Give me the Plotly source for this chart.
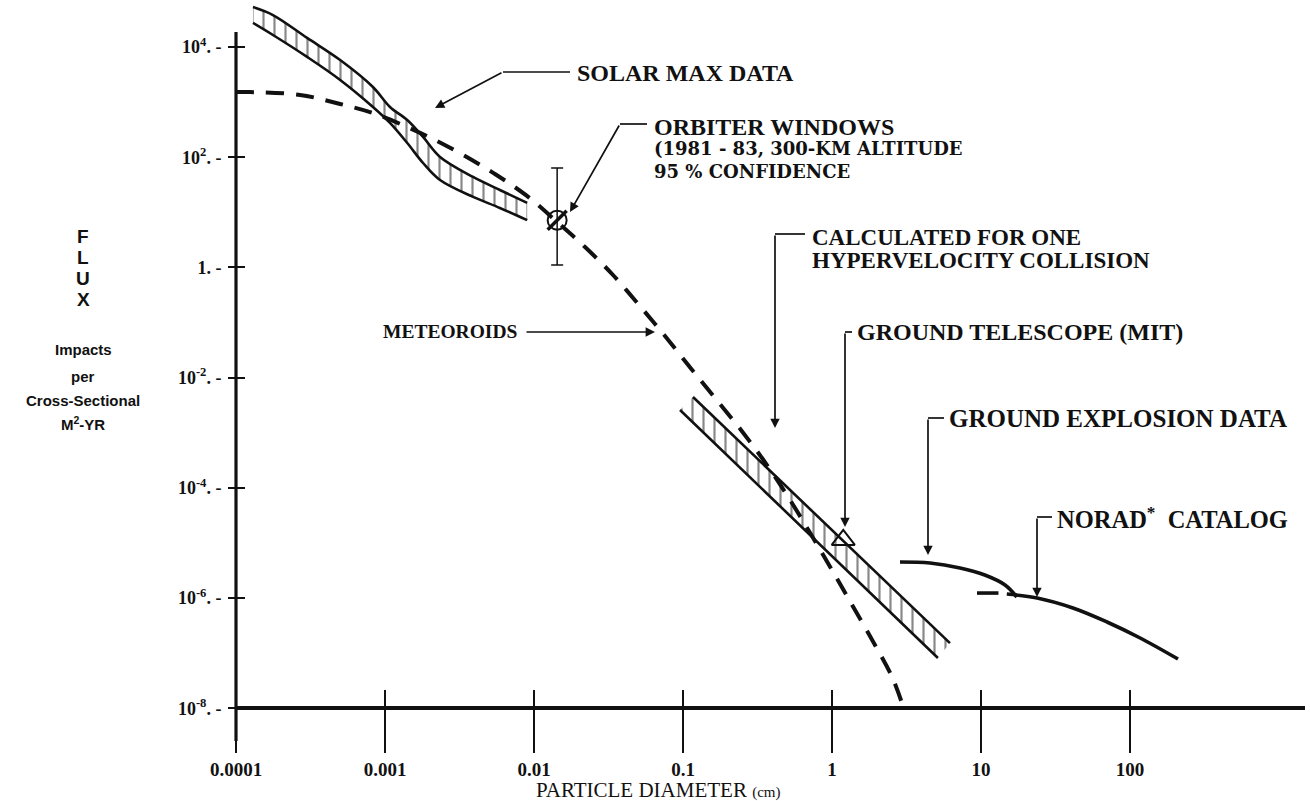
import plotly.graph_objects as go
import math

# ---------------- data ----------------
# Solar Max data band (hatched)
solar_x     = [1.30e-4, 1.77e-4, 3.0e-4, 5.0e-4, 8.3e-4, 1.08e-3, 1.41e-3, 1.80e-3, 2.34e-3, 3.9e-3, 5.9e-3, 9.0e-3]
solar_upper = [5.3e4, 3.8e4, 1.46e4, 5.8e3, 1.88e3, 815, 473, 233, 101, 43.8, 25.4, 14.8]
solar_lower = [2.73e4, 1.65e4, 6.6e3, 2.52e3, 815, 418, 181, 78.5, 38.5, 19.0, 12.0, 7.2]

# Meteoroid model (dashed)
met_x = [1.0e-4, 1.24e-4, 2.69e-4, 5.0e-4, 8.3e-4, 1.41e-3, 2.10e-3, 3.34e-3, 5.47e-3, 8.97e-3,
         1.43e-2, 2.20e-2, 3.39e-2, 5.14e-2, 7.57e-2, 0.111, 0.164, 0.245, 0.366, 0.523,
         0.734, 1.0, 1.34, 1.86, 2.53, 3.09]
met_y = [1.52e3, 1.52e3, 1.35e3, 925, 634, 353, 214, 110, 49.5, 19.8,
         6.67, 2.34, 0.728, 0.199, 0.0569, 0.01556, 4.26e-3, 1.12e-3, 2.59e-4, 6.01e-5,
         1.33e-5, 3.22e-6, 8.11e-7, 1.73e-7, 3.68e-8, 8.5e-9]

# Orbiter windows point with 95 % confidence interval
orb_x = [1.43e-2]
orb_y = [7.2]
orb_hi = [63.7]
orb_lo = [1.1]

# Calculated for one hypervelocity collision (hatched band)
hyp_x_upper = [0.1167, 6.19]
hyp_upper   = [4.44e-3, 1.52e-7]
hyp_x_lower = [0.0955, 5.14]
hyp_lower   = [2.58e-3, 8.15e-8]

# Ground telescope (MIT)
tel_x = [1.19]
tel_y = [1.13e-5]

# Ground explosion data
ged_x = [2.86, 4.55, 7.23, 10.6, 14.5, 17.4]
ged_y = [4.5e-6, 4.31e-6, 3.50e-6, 2.61e-6, 1.72e-6, 1.04e-6]

# NORAD catalog (short leading dash, then the curve)
norad_x = [9.4, 13.1, None, 14.9, 23.8, 41.4, 70.1, 117, 210]
norad_y = [1.23e-6, 1.23e-6, None, 1.18e-6, 1.0e-6, 6.59e-7, 3.67e-7, 1.88e-7, 7.8e-8]

# ticks
x_tick_vals = [1e-4, 1e-3, 1e-2, 1e-1, 1, 10, 100]
x_tick_text = ["<b>0.0001</b>", "<b>0.001</b>", "<b>0.01</b>", "<b>0.1</b>", "<b>1</b>", "<b>10</b>", "<b>100</b>"]
y_tick_vals = [1e4, 1e2, 1, 1e-2, 1e-4, 1e-6, 1e-8]
y_tick_text = ["<b>10<sup>4</sup>. -</b>", "<b>10<sup>2</sup>. -</b>", "<b>1. -</b>", "<b>10<sup>-2</sup>. -</b>",
               "<b>10<sup>-4</sup>. -</b>", "<b>10<sup>-6</sup>. -</b>", "<b>10<sup>-8</sup>. -</b>"]

# ---------------- layout geometry ----------------
W, H = 1310, 801
L, R, T, B = 236, 5, 3, 60
PW, PH = W - L - R, H - T - B
X_RANGE = [-4.0, -4.0 + PW / 149.0]
Y_TOP = 4.0 + 44 / 55.1
Y_RANGE = [Y_TOP - PH / 55.1, Y_TOP]
AXIS_POS = (math.log10(1e-8) - Y_RANGE[0]) / (Y_RANGE[1] - Y_RANGE[0])


def px(xp):
    return (xp - L) / PW


def py(yp):
    return 1 - (yp - T) / PH


INK = "#111111"
SERIF = "Liberation Serif, DejaVu Serif, serif"
WIDE_SERIF = "DejaVu Serif, Liberation Serif, serif"
SANS = "Liberation Sans, Arial, sans-serif"
HATCH = dict(shape="|", size=11, solidity=0.2, fgcolor=INK, bgcolor="rgba(0,0,0,0)")

fig = go.Figure()

# Solar max band
fig.add_trace(go.Scatter(x=solar_x, y=solar_lower, mode="lines",
                         line=dict(color=INK, width=2.6, shape="spline"), showlegend=False))
fig.add_trace(go.Scatter(x=solar_x, y=solar_upper, mode="lines", fill="tonexty",
                         fillcolor="rgba(0,0,0,0)", fillpattern=HATCH,
                         line=dict(color=INK, width=2.6, shape="spline"), showlegend=False))

# Hypervelocity band
fig.add_trace(go.Scatter(x=hyp_x_lower, y=hyp_lower, mode="lines",
                         line=dict(color=INK, width=2.6), showlegend=False))
fig.add_trace(go.Scatter(x=hyp_x_upper, y=hyp_upper, mode="lines", fill="tonexty",
                         fillcolor="rgba(0,0,0,0)", fillpattern=HATCH,
                         line=dict(color=INK, width=2.6), showlegend=False))

# Meteoroids (dashed)
fig.add_trace(go.Scatter(x=met_x, y=met_y, mode="lines",
                         line=dict(color=INK, width=4, dash="18px,12px", shape="spline"),
                         showlegend=False))

# Orbiter windows
fig.add_trace(go.Scatter(x=orb_x, y=orb_y, mode="markers",
                         marker=dict(symbol="circle-open", size=19, color=INK,
                                     line=dict(width=2, color=INK)),
                         error_y=dict(type="data", symmetric=False,
                                      array=[orb_hi[0] - orb_y[0]],
                                      arrayminus=[orb_y[0] - orb_lo[0]],
                                      color=INK, thickness=1.5, width=6),
                         showlegend=False))
fig.add_trace(go.Scatter(x=orb_x, y=orb_y, mode="markers",
                         marker=dict(symbol="line-ne", size=19, color=INK,
                                     line=dict(width=3.5, color=INK)),
                         showlegend=False))

# Ground telescope
fig.add_trace(go.Scatter(x=tel_x, y=tel_y, mode="markers",
                         marker=dict(symbol="triangle-up-open", size=20, color=INK,
                                     line=dict(width=2, color=INK)),
                         showlegend=False))

# Ground explosion data & NORAD
fig.add_trace(go.Scatter(x=ged_x, y=ged_y, mode="lines",
                         line=dict(color=INK, width=3.6, shape="spline"), showlegend=False))
fig.add_trace(go.Scatter(x=norad_x, y=norad_y, mode="lines", connectgaps=False,
                         line=dict(color=INK, width=3.6, shape="spline"), showlegend=False))

# invisible anchor trace for mirrored tick axes
fig.add_trace(go.Scatter(x=[x_tick_vals[0]], y=[y_tick_vals[-1]], xaxis="x2", yaxis="y2",
                         mode="markers", marker=dict(opacity=0), showlegend=False,
                         hoverinfo="skip"))

# ---------------- axes ----------------
fig.update_layout(
    width=W, height=H,
    margin=dict(l=L, r=R, t=T, b=B, autoexpand=False),
    paper_bgcolor="white", plot_bgcolor="white",
    xaxis=dict(type="log", range=X_RANGE, anchor="free", position=AXIS_POS,
               showgrid=False, zeroline=False, showline=True, linewidth=3.6, linecolor=INK,
               ticks="outside", ticklen=43, tickwidth=1.6, tickcolor=INK,
               tickvals=x_tick_vals, ticktext=x_tick_text,
               tickfont=dict(family=SERIF, size=19, color=INK),
               ticklabelstandoff=0),
    xaxis2=dict(type="log", range=X_RANGE, overlaying="x", anchor="free", position=AXIS_POS,
                side="top", showgrid=False, zeroline=False, showline=False,
                ticks="outside", ticklen=18, tickwidth=1.6, tickcolor=INK,
                tickvals=x_tick_vals, showticklabels=False),
    yaxis=dict(type="log", range=Y_RANGE, showgrid=False, zeroline=False, showline=False,
               ticks="outside", ticklen=7, tickwidth=2, tickcolor=INK,
               tickvals=y_tick_vals, ticktext=y_tick_text,
               tickfont=dict(family=SERIF, size=18, color=INK),
               ticklabelstandoff=3),
    yaxis2=dict(type="log", range=Y_RANGE, overlaying="y", anchor="free", position=0,
                side="right", showgrid=False, zeroline=False, showline=False,
                ticks="outside", ticklen=8, tickwidth=2, tickcolor=INK,
                tickvals=y_tick_vals, showticklabels=False),
)

shapes = []
# y axis line
shapes.append(dict(type="line", xref="paper", yref="paper",
                   x0=0, x1=0, y0=py(741), y1=py(32), line=dict(color=INK, width=3.2)))

annots = []


def label(text, x, y, size=24, family=SERIF, anchor="left"):
    annots.append(dict(text=text, xref="paper", yref="paper", x=px(x), y=py(y),
                       xanchor=anchor, yanchor="middle", showarrow=False,
                       font=dict(family=family, size=size, color=INK)))


def seg(x0, y0, x1, y1, w=1.7):
    shapes.append(dict(type="line", xref="paper", yref="paper",
                       x0=px(x0), y0=py(y0), x1=px(x1), y1=py(y1),
                       line=dict(color=INK, width=w)))


def arrow(tx, ty, fx, fy):
    annots.append(dict(text="", xref="paper", yref="paper", x=px(tx), y=py(ty),
                       ax=fx - tx, ay=fy - ty, axref="pixel", ayref="pixel",
                       showarrow=True, arrowhead=2, arrowsize=1.1, arrowwidth=1.7,
                       arrowcolor=INK))


# Solar max
label("<b>SOLAR MAX DATA</b>", 575, 73, size=24)
seg(570, 72, 503, 72)
arrow(435, 108, 503, 72)

# Orbiter windows
label("<b>ORBITER WINDOWS</b>", 652, 127, size=24)
label("<b>(1981 - 83, 300-KM ALTITUDE</b>", 652, 149, size=18, family=WIDE_SERIF)
label("<b>95 % CONFIDENCE</b>", 652, 171, size=18, family=WIDE_SERIF)
seg(647, 124, 620, 124)
arrow(570, 212, 620, 124)

# Calculated for one hypervelocity collision
label("<b>CALCULATED FOR ONE</b>", 810, 237, size=23)
label("<b>HYPERVELOCITY COLLISION</b>", 810, 260, size=23)
seg(805, 234, 775, 234)
arrow(775, 428, 775, 234)

# Meteoroids
label("<b>METEOROIDS</b>", 520, 332, size=19.5, anchor="right")
arrow(655, 332, 525, 332)

# Ground telescope
label("<b>GROUND TELESCOPE (MIT)</b>", 855, 332, size=24)
seg(852, 332, 845, 332)
arrow(845, 527, 845, 332)

# Ground explosion data
label("<b>GROUND EXPLOSION DATA</b>", 947, 418, size=25)
seg(944, 418, 928, 418)
arrow(928, 555, 928, 418)

# NORAD
label("<b>NORAD<sup>*</sup>  CATALOG</b>", 1055, 518, size=24.5)
seg(1052, 517, 1037, 517)
arrow(1037, 597, 1037, 517)

# Y axis title
for ch, yy in zip("FLUX", [236, 257, 278, 299]):
    label("<b>%s</b>" % ch, 83, yy, size=19, family=SANS, anchor="center")
for txt, yy in zip(["Impacts", "per", "Cross-Sectional", "M<sup>2</sup>-YR"], [350, 376, 400, 423]):
    label("<b>%s</b>" % txt, 83, yy, size=15, family=SANS, anchor="center")

# X axis title
label("PARTICLE DIAMETER <span style='font-size:15px'>(cm)</span>", 658, 790, size=21,
      family=SERIF, anchor="center")

fig.update_layout(shapes=shapes, annotations=annots)
fig.write_html("out.html", config={"displayModeBar": False},
               post_script="document.body.style.margin='0';document.body.style.padding='0';")
